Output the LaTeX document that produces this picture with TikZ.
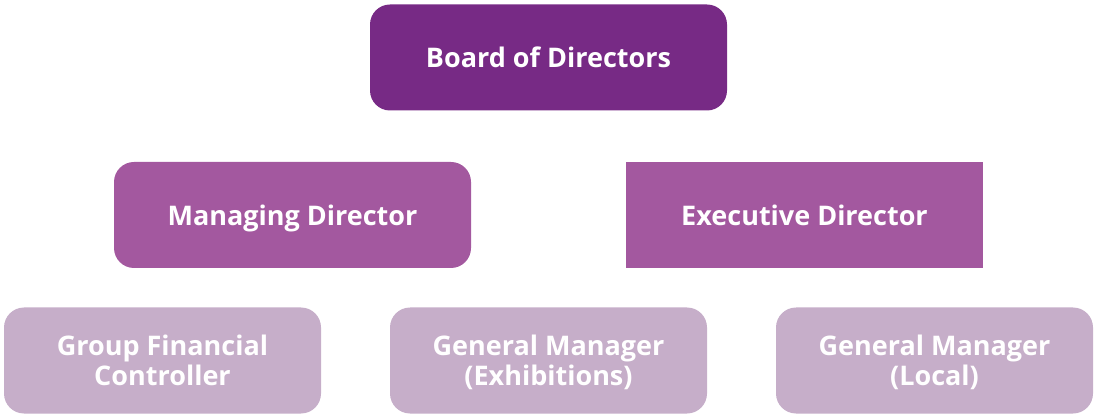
\documentclass[tikz,border=0pt]{standalone}
\usepackage{fontspec}
\setmainfont{Open Sans}
\definecolor{board}{HTML}{772A85}
\definecolor{director}{HTML}{A3589F}
\definecolor{manager}{HTML}{C6AEC9}
\begin{document}
\begin{tikzpicture}[x=1pt,y=1pt,
   box/.style={minimum width=357pt, minimum height=106pt, inner sep=0pt, text depth=0pt,
      text=white, font=\fontsize{27}{30}\selectfont\bfseries, align=center},
   roundbox/.style={box, rounded corners=20pt}]
   \useasboundingbox (0,0) rectangle (1094,415);

   \node[roundbox, fill=board] (board) at (548.5,357.5) {Board of Directors};

   \node[roundbox, fill=director] (md) at (292.5,200) {Managing Director};
   \node[box, fill=director] (ed) at (804.5,200) {Executive Director};

   \node[roundbox, fill=manager, minimum width=317pt] (gfc) at (162.5,54.5) {Group Financial\\Controller};
   \node[roundbox, fill=manager, minimum width=317pt] (gmx) at (548.5,54.5) {General Manager\\(Exhibitions)};
   \node[roundbox, fill=manager, minimum width=317pt] (gml) at (934.5,54.5) {General Manager\\(Local)};
\end{tikzpicture}
\end{document}
